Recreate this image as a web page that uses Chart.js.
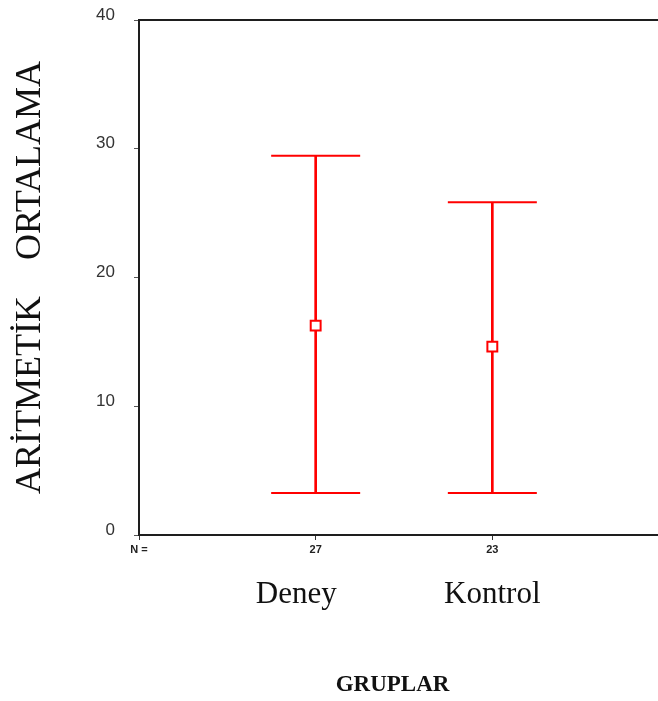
<!DOCTYPE html>
<html lang="en">
<head>
  <meta charset="UTF-8" />
  <title>Aritmetik Ortalama - Gruplar</title>
  <script src="https://cdn.jsdelivr.net/npm/chart.js"></script>
  <style>
    body {
      margin: 0;
      padding: 0;
      background: #fff;
      overflow: hidden;
    }
    .chart-wrapper {
      width: 672px;
      height: 701px;
    }
  </style>
</head>
<body>
  <div class="chart-wrapper">
    <canvas id="meanChart"></canvas>
  </div>
  <script>
    // values
    const groups = ['Deney', 'Kontrol'];
    const groupN = ['27', '23'];
    const groupPos = [1, 2];
    const means = [16.26, 14.63];
    const lower = [3.26, 3.26];
    const upper = [29.46, 25.84];
    const yTicks = [0, 10, 20, 30, 40];

    const RED = '#ff0000';
    const AXIS = '#1e1e1e';

    // the plot frame has a top line too
    const topLine = {
      id: 'topLine',
      afterDraw(chart) {
        const { ctx, chartArea } = chart;
        ctx.save();
        ctx.strokeStyle = AXIS;
        ctx.lineWidth = 2;
        ctx.beginPath();
        ctx.moveTo(chartArea.left - 1, chartArea.top);
        ctx.lineTo(chartArea.right, chartArea.top);
        ctx.stroke();
        ctx.restore();
      }
    };

    const capData = [];
    groupPos.forEach((x, i) => {
      capData.push({ x: x, y: upper[i] });
      capData.push({ x: x, y: lower[i] });
    });

    new Chart(document.getElementById('meanChart'), {
      type: 'scatter',
      data: {
        datasets: [
          {
            label: 'Ortalama',
            data: groupPos.map((x, i) => ({ x: x, y: means[i] })),
            pointStyle: 'rect',
            radius: 7,
            borderWidth: 2,
            borderColor: RED,
            backgroundColor: '#fff',
            order: 0
          },
          {
            label: 'Uçlar',
            data: capData,
            pointStyle: 'line',
            radius: 44.5,
            borderWidth: 2,
            borderColor: RED,
            order: 1
          },
          {
            type: 'bar',
            label: 'Aralık',
            data: groupPos.map((x, i) => ({ x: x, y: [lower[i], upper[i]] })),
            backgroundColor: RED,
            barThickness: 2,
            order: 2
          }
        ]
      },
      options: {
        responsive: true,
        maintainAspectRatio: false,
        animation: false,
        layout: { autoPadding: false, padding: { top: 20, right: 3, left: 0, bottom: 0 } },
        plugins: {
          legend: { display: false },
          tooltip: { enabled: false }
        },
        scales: {
          x: {
            type: 'linear',
            position: 'bottom',
            weight: 0,
            min: 0,
            max: 3,
            offset: false,
            afterFit: s => { s.height = 25; },
            afterBuildTicks: s => { s.ticks = [0].concat(groupPos).map(v => ({ value: v })); },
            ticks: {
              padding: 3,
              maxRotation: 0,
              autoSkip: false,
              color: '#222',
              font: { family: 'Liberation Sans', size: 11, weight: 'bold' },
              callback: v => v === 0 ? 'N =' : (groupN[groupPos.indexOf(v)] || '')
            },
            grid: { display: true, offset: false, drawOnChartArea: false, tickLength: 5, color: '#333' },
            border: { display: true, color: AXIS, width: 2 }
          },
          x2: {
            type: 'linear',
            position: 'bottom',
            weight: 1,
            min: 0,
            max: 3,
            offset: false,
            afterFit: s => { s.height = 141; },
            afterBuildTicks: s => { s.ticks = groupPos.map(v => ({ value: v })); },
            ticks: {
              padding: 8,
              maxRotation: 0,
              autoSkip: false,
              color: '#111',
              font: { family: 'Liberation Serif', size: 31 },
              // the Deney word sits a bit left of its tick in the original
              callback: v => {
                const i = groupPos.indexOf(v);
                return i < 0 ? '' : groups[i] + (i === 0 ? '     ' : '');
              }
            },
            grid: { display: false, offset: false },
            border: { display: false },
            title: {
              display: true,
              text: 'GRUPLAR    ',
              color: '#111',
              padding: { top: 0, bottom: 2 },
              font: { family: 'Liberation Serif', size: 23, weight: 'bold' }
            }
          },
          y: {
            min: 0,
            max: 40,
            afterFit: s => { s.width = 139; s.paddingTop = 0; s.paddingBottom = 0; },
            afterBuildTicks: s => { s.ticks = yTicks.map(v => ({ value: v })); },
            ticks: {
              padding: 19,
              labelOffset: -5,
              color: '#333',
              font: { family: 'Liberation Sans', size: 17 }
            },
            grid: { display: true, offset: false, drawOnChartArea: false, tickLength: 5, color: '#555' },
            border: { display: true, color: AXIS, width: 2 },
            title: {
              display: true,
              text: 'ARİTMETİK    ORTALAMA',
              color: '#111',
              padding: { top: 9, bottom: 0 },
              font: { family: 'Liberation Serif', size: 36 }
            }
          }
        }
      },
      plugins: [topLine]
    });
  </script>
</body>
</html>
